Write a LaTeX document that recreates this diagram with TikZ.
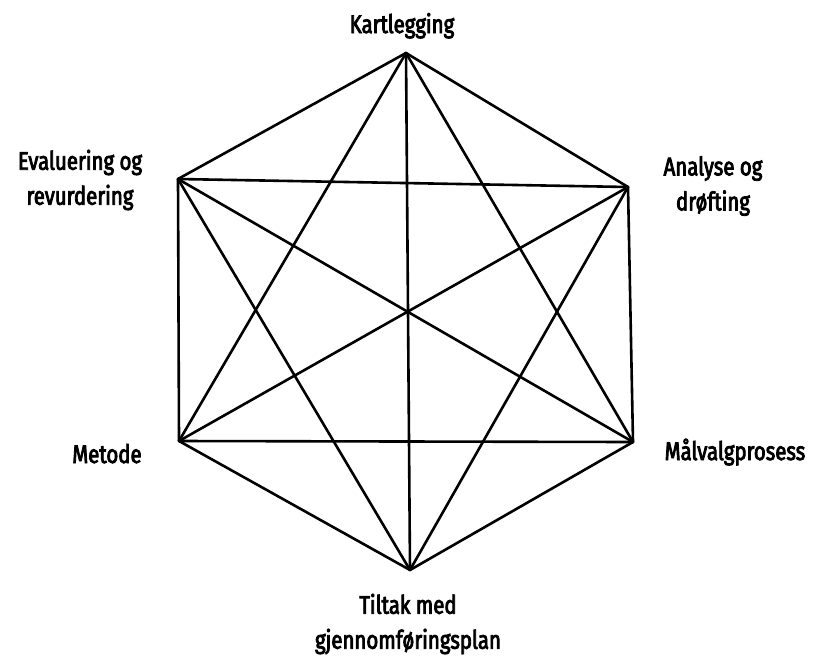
\documentclass[tikz,border=0pt]{standalone}
\usepackage{fontspec}
\setmainfont{Fira Sans}[FakeStretch=0.8,FakeBold=3.2]
\begin{document}
\begin{tikzpicture}[x=1pt,y=-1pt,
  edge/.style={line width=2.6pt,line join=round,line cap=round},
  lbl/.style={inner sep=0pt,font=\fontsize{25.5}{35}\selectfont,align=center}]
\useasboundingbox (0,0) rectangle (813,659);
\coordinate (T) at (406,53);
\coordinate (UR) at (628,187);
\coordinate (LR) at (633,442);
\coordinate (B) at (410,570);
\coordinate (LL) at (179,441);
\coordinate (UL) at (178,179);
\foreach \a/\b in {T/UR,UR/LR,LR/B,B/LL,LL/UL,UL/T,T/B,UL/LR,UR/LL,T/LL,T/LR,UL/UR,LL/LR,UL/B,UR/B}
  \draw[edge] (\a) -- (\b);
\node[lbl,anchor=base] (kart) at (402,33) {Kartlegging};
\node[lbl,anchor=base] (metode) at (107,463) {Metode};
\node[lbl,anchor=base] (maal) at (735,460) {Målvalgprosess};
\node[lbl] (eval) at (80,180) {Evaluering og\\revurdering};
\node[lbl] (anal) at (713,186) {Analyse og\\drøfting};
\node[lbl] (tilt) at (408,624) {Tiltak med\\gjennomføringsplan};
\end{tikzpicture}
\end{document}
